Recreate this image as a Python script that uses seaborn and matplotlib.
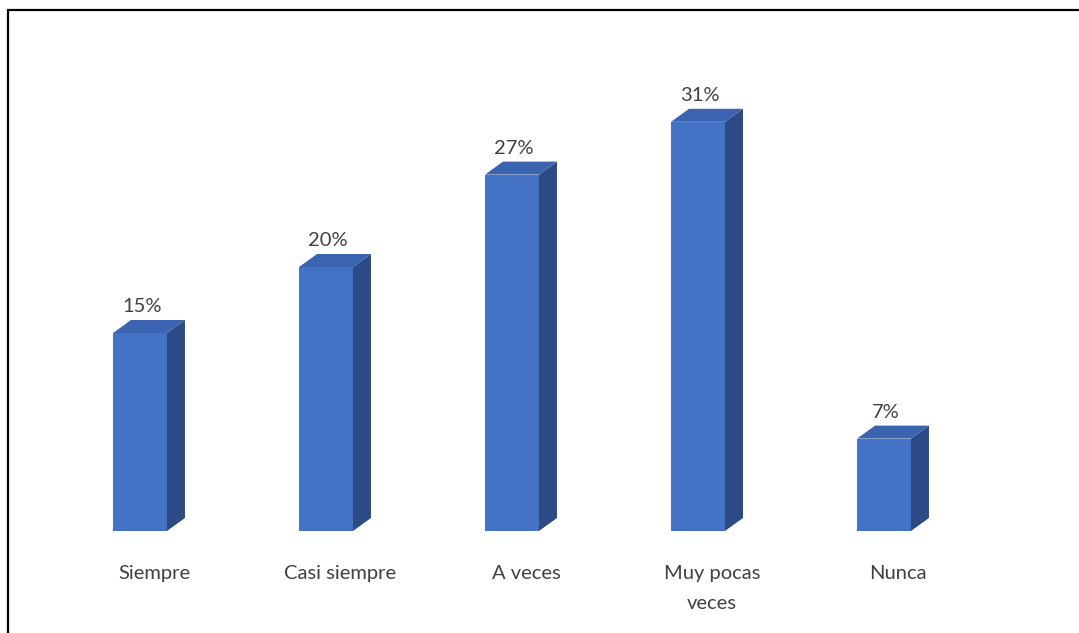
import matplotlib
matplotlib.use("Agg")
import matplotlib.pyplot as plt
from matplotlib.patches import Polygon
from matplotlib.lines import Line2D
import seaborn as sns
import pandas as pd

categories = ["Siempre", "Casi siempre", "A veces", "Muy pocas\nveces", "Nunca"]
values = [15, 20, 27, 31, 7]
value_labels = ["15%", "20%", "27%", "31%", "7%"]

FRONT = "#4472C4"
TOP = "#3A63B0"
SIDE = "#2C4A85"
TEXT = "#404040"

sns.set_theme(style="white")
plt.rcParams['font.family'] = ['Lato', 'DejaVu Sans']

W, H = 1079, 633
fig = plt.figure(figsize=(W / 100, H / 100), dpi=100)
ax_left, ax_w = 47, 930
ax_bottom = H - 531
ax_h = 462
ax = fig.add_axes([ax_left / W, ax_bottom / H, ax_w / W, ax_h / H])

df = pd.DataFrame({"cat": categories, "val": values})
sns.barplot(data=df, x="cat", y="val", color=FRONT, saturation=1, width=0.29,
            linewidth=0, ax=ax)
ax.set_ylim(0, 35)
ax.set_xlim(-0.5, len(categories) - 0.5)
ax.axis("off")

dx, dy = 18, 13
fig.canvas.draw()
to_disp = ax.transData
to_data = ax.transData.inverted()
for patch, lab in zip(ax.patches, value_labels):
    x0 = patch.get_x()
    w = patch.get_width()
    h = patch.get_height()
    (px0, py0) = to_disp.transform((x0, 0))
    (px1, py1) = to_disp.transform((x0 + w, h))
    side = [(px1, py0), (px1 + dx, py0 + dy), (px1 + dx, py1 + dy), (px1, py1)]
    top = [(px0, py1), (px1, py1), (px1 + dx, py1 + dy), (px0 + dx, py1 + dy)]
    for pts, col in ((side, SIDE), (top, TOP)):
        dpts = to_data.transform(pts)
        ax.add_patch(Polygon(dpts, closed=True, facecolor=col, edgecolor="none",
                             clip_on=False, zorder=3))
    lx, ly = to_data.transform(((px0 + px1) / 2 + 2, py1 + dy + 5))
    ax.text(lx, ly, lab, ha="center", va="bottom", fontsize=14.5, color=TEXT)

for i, cat in enumerate(categories):
    px, _ = to_disp.transform((i, 0))
    fig.text((px + 14) / W, (H - 565) / H, cat, ha="center", va="top",
             fontsize=14.5, color=TEXT, linespacing=1.95)

fig.add_artist(Line2D([8 / W, 1.0], [(H - 10) / H, (H - 10) / H],
                      transform=fig.transFigure, color="black", linewidth=1.6))
fig.add_artist(Line2D([8 / W, 8 / W], [0, (H - 10) / H],
                      transform=fig.transFigure, color="black", linewidth=1.6))

fig.savefig("out.png", dpi=100, facecolor="white")
